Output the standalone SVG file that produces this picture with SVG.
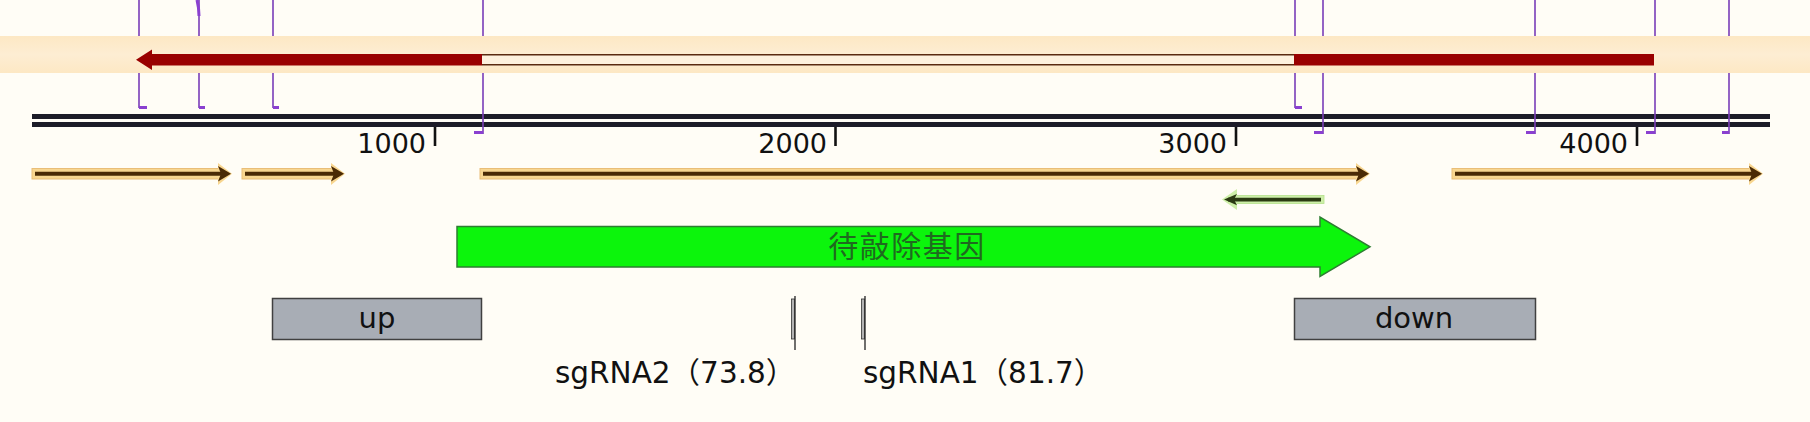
<svg xmlns="http://www.w3.org/2000/svg" width="1810" height="422" viewBox="0 0 1810 422">
<defs>
<linearGradient id="bandGrad" x1="0" y1="0" x2="0" y2="1">
<stop offset="0" stop-color="#FDE8C4"/>
<stop offset="0.5" stop-color="#FDEDD3"/>
<stop offset="1" stop-color="#FDE8C4"/>
</linearGradient>
<style>
.site{stroke:#7A3EB8;stroke-width:1.6;fill:none}
.foot{fill:#8A40D0}
.axis{fill:#1C1C28}
.tick{stroke:#111;stroke-width:2.6}
.num{font-family:"DejaVu Sans","Liberation Sans",sans-serif;font-size:27px;fill:#111;text-anchor:end}
.lbl{font-family:"DejaVu Sans","Noto Sans CJK SC",sans-serif;font-size:29.5px;fill:#111}
.boxtxt{font-family:"DejaVu Sans","Liberation Sans",sans-serif;font-size:29px;fill:#111;text-anchor:middle}
.gbody{fill:#F8D690;stroke:#E9BE78;stroke-width:1}
.gline{stroke:#4A2A05;stroke-width:4}
.ghead{fill:#4A2A05}
.gbox{fill:#A8ADB5;stroke:#404040;stroke-width:1.5}
.sgrect{fill:#B4B4B4;stroke:#333;stroke-width:0.8}
.sgline{stroke:#222;stroke-width:1.3}
</style>
</defs>
<rect x="0" y="0" width="1810" height="422" fill="#FFFDF6"/>

<g id="orf-band">
<rect x="0" y="36" width="1810" height="37" fill="url(#bandGrad)"/>
<polygon points="136,59.7 152,49.5 152,54 482,54 482,65.5 152,65.5 152,70" fill="#990000"/>
<rect x="482" y="54" width="812" height="11.5" fill="#FDF1DE"/>
<line x1="482" y1="54.8" x2="1294" y2="54.8" stroke="#5A2A10" stroke-width="1.6"/>
<line x1="482" y1="64.8" x2="1294" y2="64.8" stroke="#5A2A10" stroke-width="1.6"/>
<rect x="1294" y="54" width="360" height="11.5" fill="#990000"/>
</g>

<g id="axis">
<rect class="axis" x="32" y="114" width="1738" height="5"/>
<rect class="axis" x="32" y="122" width="1738" height="5"/>
<line class="tick" x1="435" y1="127" x2="435" y2="146"/>
<line class="tick" x1="835.5" y1="127" x2="835.5" y2="146"/>
<line class="tick" x1="1236" y1="127" x2="1236" y2="146"/>
<line class="tick" x1="1637" y1="127" x2="1637" y2="146"/>
<text class="num" x="426" y="153">1000</text>
<text class="num" x="827" y="153">2000</text>
<text class="num" x="1227" y="153">3000</text>
<text class="num" x="1628" y="153">4000</text>
</g>

<g id="sites">
<path class="site" d="M139,0V36M139,73V108"/><rect class="foot" x="139" y="106" width="8" height="3"/>
<path class="site" d="M199,0V36M199,73V108"/><path d="M197,0 Q199,8 199,16" stroke="#8A40D0" stroke-width="3" fill="none"/><rect class="foot" x="199" y="106" width="6" height="3"/>
<path class="site" d="M273,0V36M273,73V108"/><rect class="foot" x="273" y="106" width="6" height="3"/>
<path class="site" d="M483,0V36M483,73V134"/><rect class="foot" x="474" y="131" width="9" height="3"/>
<path class="site" d="M1295,0V36M1295,73V108"/><rect class="foot" x="1295" y="106" width="7" height="3"/>
<path class="site" d="M1323,0V36M1323,73V134"/><rect class="foot" x="1314" y="131" width="9" height="3"/>
<path class="site" d="M1535,0V36M1535,73V134"/><rect class="foot" x="1526" y="131" width="9" height="3"/>
<path class="site" d="M1655,0V36M1655,73V134"/><rect class="foot" x="1646" y="131" width="9" height="3"/>
<path class="site" d="M1729,0V36M1729,73V134"/><rect class="foot" x="1722" y="131" width="7" height="3"/>
</g>

<g id="fwd-arrow-1">
<rect class="gbody" x="32" y="168.5" width="190" height="10.5"/>
<polygon points="218,163 232,173.7 218,185" fill="#F8D690"/>
<line class="gline" x1="35" y1="173.7" x2="226" y2="173.7"/>
<polygon class="ghead" points="218,166 231,173.7 218,181.5 221,173.7"/>
</g>
<g id="fwd-arrow-2">
<rect class="gbody" x="242" y="168.5" width="93" height="10.5"/>
<polygon points="331,163 345,173.7 331,185" fill="#F8D690"/>
<line class="gline" x1="245" y1="173.7" x2="339" y2="173.7"/>
<polygon class="ghead" points="331,166 344,173.7 331,181.5 334,173.7"/>
</g>
<g id="fwd-arrow-3">
<rect class="gbody" x="480" y="168.5" width="880" height="10.5"/>
<polygon points="1356,163 1370,173.7 1356,185" fill="#F8D690"/>
<line class="gline" x1="483" y1="173.7" x2="1364" y2="173.7"/>
<polygon class="ghead" points="1356,166 1369,173.7 1356,181.5 1359,173.7"/>
</g>
<g id="fwd-arrow-4">
<rect class="gbody" x="1452" y="168.5" width="301" height="10.5"/>
<polygon points="1749,163 1763,173.7 1749,185" fill="#F8D690"/>
<line class="gline" x1="1455" y1="173.7" x2="1757" y2="173.7"/>
<polygon class="ghead" points="1749,166 1762,173.7 1749,181.5 1752,173.7"/>
</g>

<g id="rev-arrow">
<rect x="1233" y="195.5" width="91" height="8" fill="#CDEFA8" stroke="#B5E08A" stroke-width="0.8"/>
<polygon points="1237,189 1222,199.6 1237,210" fill="#CDEFA8"/>
<line x1="1228" y1="199.6" x2="1321" y2="199.6" stroke="#2B3A12" stroke-width="3.6"/>
<polygon points="1237,194 1224,199.6 1237,205.2 1234,199.6" fill="#2B3A12"/>
</g>

<g id="target-gene">
<polygon points="457,226.5 1320,226.5 1320,217 1370,246.8 1320,276.5 1320,267 457,267" fill="#0CF50C" stroke="#2E7D32" stroke-width="1.5"/>
<text x="907" y="257" font-family="'Noto Sans CJK SC','Noto Sans CJK TC',sans-serif" font-size="30" letter-spacing="1.5" fill="#1F6A1F" text-anchor="middle">待敲除基因</text>
</g>

<g id="up">
<rect class="gbox" x="272.5" y="298.5" width="209" height="41"/>
<text class="boxtxt" x="377" y="328">up</text>
</g>
<g id="down">
<rect class="gbox" x="1294.5" y="298.5" width="241" height="41"/>
<text class="boxtxt" x="1414" y="328">down</text>
</g>

<g id="sgRNA2">
<rect class="sgrect" x="791.5" y="299" width="3" height="40"/>
<line class="sgline" x1="795" y1="296" x2="795" y2="350"/>
<text class="lbl" x="555" y="383">sgRNA2（73.8）</text>
</g>
<g id="sgRNA1">
<rect class="sgrect" x="861.5" y="299" width="3" height="40"/>
<line class="sgline" x1="865" y1="296" x2="865" y2="350"/>
<text class="lbl" x="863" y="383">sgRNA1（81.7）</text>
</g>
</svg>
